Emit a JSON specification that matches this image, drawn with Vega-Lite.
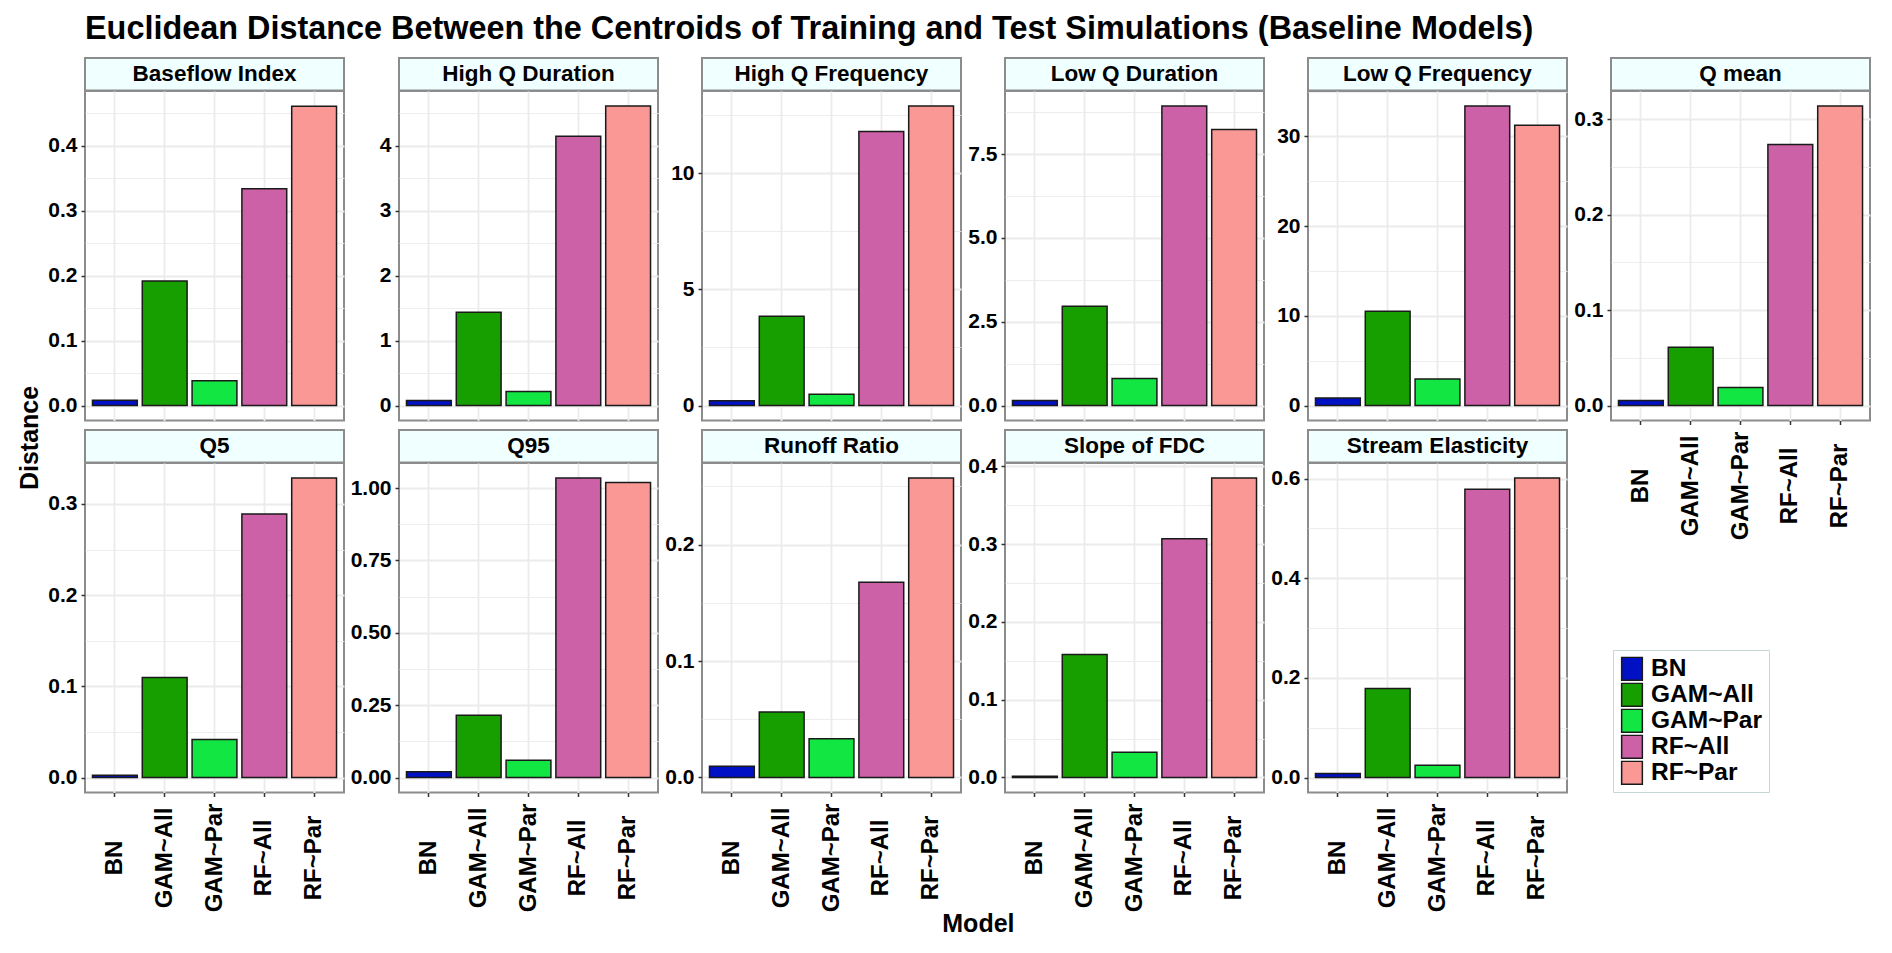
{
  "$schema": "https://vega.github.io/schema/vega-lite/v6.json",
  "padding": {"left": 17, "top": 12, "right": 5, "bottom": 5},
  "title": {
    "text": "Euclidean Distance Between the Centroids of Training and Test Simulations (Baseline Models)",
    "fontSize": 32.4,
    "fontWeight": "bold",
    "color": "#000000",
    "anchor": "start",
    "frame": "group",
    "offset": 12
  },
  "datasets": {
    "dist": [
      {"metric": "Baseflow Index", "model": "BN", "distance": 0.008},
      {"metric": "Baseflow Index", "model": "GAM~All", "distance": 0.192},
      {"metric": "Baseflow Index", "model": "GAM~Par", "distance": 0.038},
      {"metric": "Baseflow Index", "model": "RF~All", "distance": 0.334},
      {"metric": "Baseflow Index", "model": "RF~Par", "distance": 0.461},
      {"metric": "High Q Duration", "model": "BN", "distance": 0.077},
      {"metric": "High Q Duration", "model": "GAM~All", "distance": 1.436},
      {"metric": "High Q Duration", "model": "GAM~Par", "distance": 0.215},
      {"metric": "High Q Duration", "model": "RF~All", "distance": 4.143},
      {"metric": "High Q Duration", "model": "RF~Par", "distance": 4.61},
      {"metric": "High Q Frequency", "model": "BN", "distance": 0.21},
      {"metric": "High Q Frequency", "model": "GAM~All", "distance": 3.84},
      {"metric": "High Q Frequency", "model": "GAM~Par", "distance": 0.49},
      {"metric": "High Q Frequency", "model": "RF~All", "distance": 11.79},
      {"metric": "High Q Frequency", "model": "RF~Par", "distance": 12.89},
      {"metric": "Low Q Duration", "model": "BN", "distance": 0.15},
      {"metric": "Low Q Duration", "model": "GAM~All", "distance": 2.96},
      {"metric": "Low Q Duration", "model": "GAM~Par", "distance": 0.81},
      {"metric": "Low Q Duration", "model": "RF~All", "distance": 8.94},
      {"metric": "Low Q Duration", "model": "RF~Par", "distance": 8.24},
      {"metric": "Low Q Frequency", "model": "BN", "distance": 0.85},
      {"metric": "Low Q Frequency", "model": "GAM~All", "distance": 10.5},
      {"metric": "Low Q Frequency", "model": "GAM~Par", "distance": 2.97},
      {"metric": "Low Q Frequency", "model": "RF~All", "distance": 33.4},
      {"metric": "Low Q Frequency", "model": "RF~Par", "distance": 31.26},
      {"metric": "Q mean", "model": "BN", "distance": 0.0052},
      {"metric": "Q mean", "model": "GAM~All", "distance": 0.061},
      {"metric": "Q mean", "model": "GAM~Par", "distance": 0.019},
      {"metric": "Q mean", "model": "RF~All", "distance": 0.2735},
      {"metric": "Q mean", "model": "RF~Par", "distance": 0.314},
      {"metric": "Q5", "model": "BN", "distance": 0.0026},
      {"metric": "Q5", "model": "GAM~All", "distance": 0.1096},
      {"metric": "Q5", "model": "GAM~Par", "distance": 0.0417},
      {"metric": "Q5", "model": "RF~All", "distance": 0.289},
      {"metric": "Q5", "model": "RF~Par", "distance": 0.3285},
      {"metric": "Q95", "model": "BN", "distance": 0.0196},
      {"metric": "Q95", "model": "GAM~All", "distance": 0.215},
      {"metric": "Q95", "model": "GAM~Par", "distance": 0.0598},
      {"metric": "Q95", "model": "RF~All", "distance": 1.035},
      {"metric": "Q95", "model": "RF~Par", "distance": 1.019},
      {"metric": "Runoff Ratio", "model": "BN", "distance": 0.0097},
      {"metric": "Runoff Ratio", "model": "GAM~All", "distance": 0.0563},
      {"metric": "Runoff Ratio", "model": "GAM~Par", "distance": 0.0332},
      {"metric": "Runoff Ratio", "model": "RF~All", "distance": 0.1676},
      {"metric": "Runoff Ratio", "model": "RF~Par", "distance": 0.2572},
      {"metric": "Slope of FDC", "model": "BN", "distance": 0.0017},
      {"metric": "Slope of FDC", "model": "GAM~All", "distance": 0.158},
      {"metric": "Slope of FDC", "model": "GAM~Par", "distance": 0.0325},
      {"metric": "Slope of FDC", "model": "RF~All", "distance": 0.307},
      {"metric": "Slope of FDC", "model": "RF~Par", "distance": 0.385},
      {"metric": "Stream Elasticity", "model": "BN", "distance": 0.008},
      {"metric": "Stream Elasticity", "model": "GAM~All", "distance": 0.1786},
      {"metric": "Stream Elasticity", "model": "GAM~Par", "distance": 0.0247},
      {"metric": "Stream Elasticity", "model": "RF~All", "distance": 0.5786},
      {"metric": "Stream Elasticity", "model": "RF~Par", "distance": 0.6013}
    ]
  },
  "data": {"name": "dist"},
  "config": {
    "font": "Liberation Sans",
    "background": "#ffffff",
    "view": {"stroke": "#8c8c8c", "strokeWidth": 2, "fill": "#ffffff"},
    "axisY": {
      "domain": false,
      "tickSize": 4,
      "tickColor": "#333333",
      "tickWidth": 1.5,
      "labelFontSize": 21,
      "labelFontWeight": "bold",
      "labelColor": "#000000",
      "labelPadding": 4,
      "gridColor": "#EBEBEB"
    },
    "axisX": {
      "domain": false,
      "tickSize": 4,
      "tickColor": "#333333",
      "tickWidth": 1.5,
      "labelFontSize": 24,
      "labelFontWeight": "bold",
      "labelColor": "#000000",
      "labelAngle": 270,
      "labelAlign": "center",
      "labelBaseline": "middle",
      "labelPadding": 61,
      "labelOverlap": false,
      "bandPosition": 0.5,
      "gridColor": "#EBEBEB",
      "gridWidth": 1.8
    },
    "legend": {
      "labelFontSize": 24.5,
      "labelFontWeight": "bold",
      "labelColor": "#000000",
      "symbolType": "M-0.9,-1H0.9V1H-0.9Z",
      "symbolSize": 529,
      "symbolStrokeColor": "#1a1a1a",
      "symbolStrokeWidth": 1.5,
      "symbolOpacity": 1,
      "clipHeight": 24.5,
      "rowPadding": 0,
      "labelOffset": 6.5,
      "padding": 6.5,
      "strokeColor": "#C5D6D6",
      "fillColor": "#ffffff"
    },
    "bar": {"stroke": "#1a1a1a", "strokeWidth": 1.5}
  },
  "vconcat": [
    {
      "title": {"text": "Model", "orient": "bottom", "anchor": "middle", "fontSize": 25, "fontWeight": "bold", "color": "#000000", "offset": 0, "dx": 34, "dy": -1},
      "spacing": 4,
      "hconcat": [
        {
          "title": {"text": "Distance", "orient": "left", "anchor": "middle", "fontSize": 25, "fontWeight": "bold", "color": "#000000", "offset": 4, "dx": 47},
          "spacing": 7,
          "vconcat": [
            {
              "spacing": 0,
              "bounds": "flush",
              "vconcat": [
                {
                  "width": 259, "height": 32.5,
                  "view": {"fill": "#F0FFFF", "stroke": "#8c8c8c", "strokeWidth": 2},
                  "transform": [{"filter": "datum.metric == 'Baseflow Index' && datum.model == 'BN'"}],
                  "mark": {"type": "text", "fontSize": 22.5, "fontWeight": "bold", "color": "#000000"},
                  "encoding": {
                    "x": {"field": "metric", "type": "nominal", "axis": {"title": null, "labels": false, "ticks": false, "grid": false, "domain": true, "domainColor": "#1a1a1a", "domainWidth": 2}},
                    "text": {"field": "metric"}
                  }
                },
                {
                  "width": 259, "height": 329.5,
                  "transform": [{"filter": "datum.metric == 'Baseflow Index'"}],
                  "mark": "bar",
                  "encoding": {
                    "x": {"field": "model", "type": "nominal", "scale": {"paddingInner": 0.1, "paddingOuter": 0.15}, "axis": {"title": null, "labels": false, "ticks": false, "grid": true}},
                    "y": {"field": "distance", "type": "quantitative", "scale": {"domain": [-0.0231, 0.4846], "nice": false, "zero": false},
                      "axis": {"title": null, "grid": true, "values": [0, 0.05, 0.1, 0.15, 0.2, 0.25, 0.3, 0.35, 0.4, 0.45], "format": ".1f",
                        "labelExpr": "abs(datum.value/0.1-round(datum.value/0.1))>0.01 ? '' : datum.label",
                        "tickOpacity": {"condition": {"test": "abs(datum.value/0.1-round(datum.value/0.1))>0.01", "value": 0}, "value": 1},
                        "gridWidth": {"condition": {"test": "abs(datum.value/0.1-round(datum.value/0.1))>0.01", "value": 0.9}, "value": 1.8}}},
                    "color": {"field": "model", "type": "nominal",
                      "scale": {"domain": ["BN", "GAM~All", "GAM~Par", "RF~All", "RF~Par"], "range": ["#0010C4", "#179F00", "#12E642", "#CC61A7", "#FA9896"]},
                      "legend": {"title": null, "orient": "none", "legendX": 1528, "legendY": 592, "rowPadding": 0}}
                  }
                }
              ]
            },
            {
              "spacing": 0,
              "bounds": "flush",
              "vconcat": [
                {
                  "width": 259, "height": 32.5,
                  "view": {"fill": "#F0FFFF", "stroke": "#8c8c8c", "strokeWidth": 2},
                  "transform": [{"filter": "datum.metric == 'Q5' && datum.model == 'BN'"}],
                  "mark": {"type": "text", "fontSize": 22.5, "fontWeight": "bold", "color": "#000000"},
                  "encoding": {
                    "x": {"field": "metric", "type": "nominal", "axis": {"title": null, "labels": false, "ticks": false, "grid": false, "domain": true, "domainColor": "#1a1a1a", "domainWidth": 2}},
                    "text": {"field": "metric"}
                  }
                },
                {
                  "width": 259, "height": 329.5,
                  "transform": [{"filter": "datum.metric == 'Q5'"}],
                  "mark": "bar",
                  "encoding": {
                    "x": {"field": "model", "type": "nominal", "scale": {"paddingInner": 0.1, "paddingOuter": 0.15}, "axis": {"title": null, "grid": true}},
                    "y": {"field": "distance", "type": "quantitative", "scale": {"domain": [-0.0164, 0.3449], "nice": false, "zero": false},
                      "axis": {"title": null, "grid": true, "values": [0, 0.05, 0.1, 0.15, 0.2, 0.25, 0.3], "format": ".1f",
                        "labelExpr": "abs(datum.value/0.1-round(datum.value/0.1))>0.01 ? '' : datum.label",
                        "tickOpacity": {"condition": {"test": "abs(datum.value/0.1-round(datum.value/0.1))>0.01", "value": 0}, "value": 1},
                        "gridWidth": {"condition": {"test": "abs(datum.value/0.1-round(datum.value/0.1))>0.01", "value": 0.9}, "value": 1.8}}},
                    "color": {"field": "model", "type": "nominal"}
                  }
                }
              ]
            }
          ]
        },
        {
          "spacing": 7,
          "vconcat": [
            {
              "spacing": 0,
              "bounds": "flush",
              "vconcat": [
                {
                  "width": 259, "height": 32.5,
                  "view": {"fill": "#F0FFFF", "stroke": "#8c8c8c", "strokeWidth": 2},
                  "transform": [{"filter": "datum.metric == 'High Q Duration' && datum.model == 'BN'"}],
                  "mark": {"type": "text", "fontSize": 22.5, "fontWeight": "bold", "color": "#000000"},
                  "encoding": {
                    "x": {"field": "metric", "type": "nominal", "axis": {"title": null, "labels": false, "ticks": false, "grid": false, "domain": true, "domainColor": "#1a1a1a", "domainWidth": 2}},
                    "text": {"field": "metric"}
                  }
                },
                {
                  "width": 259, "height": 329.5,
                  "transform": [{"filter": "datum.metric == 'High Q Duration'"}],
                  "mark": "bar",
                  "encoding": {
                    "x": {"field": "model", "type": "nominal", "scale": {"paddingInner": 0.1, "paddingOuter": 0.15}, "axis": {"title": null, "labels": false, "ticks": false, "grid": true}},
                    "y": {"field": "distance", "type": "quantitative", "scale": {"domain": [-0.2305, 4.8405], "nice": false, "zero": false},
                      "axis": {"title": null, "grid": true, "values": [0, 0.5, 1, 1.5, 2, 2.5, 3, 3.5, 4, 4.5], "format": ".0f",
                        "labelExpr": "abs(datum.value-round(datum.value))>0.01 ? '' : datum.label",
                        "tickOpacity": {"condition": {"test": "abs(datum.value-round(datum.value))>0.01", "value": 0}, "value": 1},
                        "gridWidth": {"condition": {"test": "abs(datum.value-round(datum.value))>0.01", "value": 0.9}, "value": 1.8}}},
                    "color": {"field": "model", "type": "nominal"}
                  }
                }
              ]
            },
            {
              "spacing": 0,
              "bounds": "flush",
              "vconcat": [
                {
                  "width": 259, "height": 32.5,
                  "view": {"fill": "#F0FFFF", "stroke": "#8c8c8c", "strokeWidth": 2},
                  "transform": [{"filter": "datum.metric == 'Q95' && datum.model == 'BN'"}],
                  "mark": {"type": "text", "fontSize": 22.5, "fontWeight": "bold", "color": "#000000"},
                  "encoding": {
                    "x": {"field": "metric", "type": "nominal", "axis": {"title": null, "labels": false, "ticks": false, "grid": false, "domain": true, "domainColor": "#1a1a1a", "domainWidth": 2}},
                    "text": {"field": "metric"}
                  }
                },
                {
                  "width": 259, "height": 329.5,
                  "transform": [{"filter": "datum.metric == 'Q95'"}],
                  "mark": "bar",
                  "encoding": {
                    "x": {"field": "model", "type": "nominal", "scale": {"paddingInner": 0.1, "paddingOuter": 0.15}, "axis": {"title": null, "grid": true}},
                    "y": {"field": "distance", "type": "quantitative", "scale": {"domain": [-0.0518, 1.0868], "nice": false, "zero": false},
                      "axis": {"title": null, "grid": true, "values": [0, 0.125, 0.25, 0.375, 0.5, 0.625, 0.75, 0.875, 1], "format": ".2f",
                        "labelExpr": "abs(datum.value/0.25-round(datum.value/0.25))>0.01 ? '' : datum.label",
                        "tickOpacity": {"condition": {"test": "abs(datum.value/0.25-round(datum.value/0.25))>0.01", "value": 0}, "value": 1},
                        "gridWidth": {"condition": {"test": "abs(datum.value/0.25-round(datum.value/0.25))>0.01", "value": 0.9}, "value": 1.8}}},
                    "color": {"field": "model", "type": "nominal"}
                  }
                }
              ]
            }
          ]
        },
        {
          "spacing": 7,
          "vconcat": [
            {
              "spacing": 0,
              "bounds": "flush",
              "vconcat": [
                {
                  "width": 259, "height": 32.5,
                  "view": {"fill": "#F0FFFF", "stroke": "#8c8c8c", "strokeWidth": 2},
                  "transform": [{"filter": "datum.metric == 'High Q Frequency' && datum.model == 'BN'"}],
                  "mark": {"type": "text", "fontSize": 22.5, "fontWeight": "bold", "color": "#000000"},
                  "encoding": {
                    "x": {"field": "metric", "type": "nominal", "axis": {"title": null, "labels": false, "ticks": false, "grid": false, "domain": true, "domainColor": "#1a1a1a", "domainWidth": 2}},
                    "text": {"field": "metric"}
                  }
                },
                {
                  "width": 259, "height": 329.5,
                  "transform": [{"filter": "datum.metric == 'High Q Frequency'"}],
                  "mark": "bar",
                  "encoding": {
                    "x": {"field": "model", "type": "nominal", "scale": {"paddingInner": 0.1, "paddingOuter": 0.15}, "axis": {"title": null, "labels": false, "ticks": false, "grid": true}},
                    "y": {"field": "distance", "type": "quantitative", "scale": {"domain": [-0.6445, 13.5345], "nice": false, "zero": false},
                      "axis": {"title": null, "grid": true, "values": [0, 2.5, 5, 7.5, 10, 12.5], "format": ".0f",
                        "labelExpr": "abs(datum.value/5-round(datum.value/5))>0.01 ? '' : datum.label",
                        "tickOpacity": {"condition": {"test": "abs(datum.value/5-round(datum.value/5))>0.01", "value": 0}, "value": 1},
                        "gridWidth": {"condition": {"test": "abs(datum.value/5-round(datum.value/5))>0.01", "value": 0.9}, "value": 1.8}}},
                    "color": {"field": "model", "type": "nominal"}
                  }
                }
              ]
            },
            {
              "spacing": 0,
              "bounds": "flush",
              "vconcat": [
                {
                  "width": 259, "height": 32.5,
                  "view": {"fill": "#F0FFFF", "stroke": "#8c8c8c", "strokeWidth": 2},
                  "transform": [{"filter": "datum.metric == 'Runoff Ratio' && datum.model == 'BN'"}],
                  "mark": {"type": "text", "fontSize": 22.5, "fontWeight": "bold", "color": "#000000"},
                  "encoding": {
                    "x": {"field": "metric", "type": "nominal", "axis": {"title": null, "labels": false, "ticks": false, "grid": false, "domain": true, "domainColor": "#1a1a1a", "domainWidth": 2}},
                    "text": {"field": "metric"}
                  }
                },
                {
                  "width": 259, "height": 329.5,
                  "transform": [{"filter": "datum.metric == 'Runoff Ratio'"}],
                  "mark": "bar",
                  "encoding": {
                    "x": {"field": "model", "type": "nominal", "scale": {"paddingInner": 0.1, "paddingOuter": 0.15}, "axis": {"title": null, "grid": true}},
                    "y": {"field": "distance", "type": "quantitative", "scale": {"domain": [-0.0129, 0.2701], "nice": false, "zero": false},
                      "axis": {"title": null, "grid": true, "values": [0, 0.05, 0.1, 0.15, 0.2, 0.25], "format": ".1f",
                        "labelExpr": "abs(datum.value/0.1-round(datum.value/0.1))>0.01 ? '' : datum.label",
                        "tickOpacity": {"condition": {"test": "abs(datum.value/0.1-round(datum.value/0.1))>0.01", "value": 0}, "value": 1},
                        "gridWidth": {"condition": {"test": "abs(datum.value/0.1-round(datum.value/0.1))>0.01", "value": 0.9}, "value": 1.8}}},
                    "color": {"field": "model", "type": "nominal"}
                  }
                }
              ]
            }
          ]
        },
        {
          "spacing": 7,
          "vconcat": [
            {
              "spacing": 0,
              "bounds": "flush",
              "vconcat": [
                {
                  "width": 259, "height": 32.5,
                  "view": {"fill": "#F0FFFF", "stroke": "#8c8c8c", "strokeWidth": 2},
                  "transform": [{"filter": "datum.metric == 'Low Q Duration' && datum.model == 'BN'"}],
                  "mark": {"type": "text", "fontSize": 22.5, "fontWeight": "bold", "color": "#000000"},
                  "encoding": {
                    "x": {"field": "metric", "type": "nominal", "axis": {"title": null, "labels": false, "ticks": false, "grid": false, "domain": true, "domainColor": "#1a1a1a", "domainWidth": 2}},
                    "text": {"field": "metric"}
                  }
                },
                {
                  "width": 259, "height": 329.5,
                  "transform": [{"filter": "datum.metric == 'Low Q Duration'"}],
                  "mark": "bar",
                  "encoding": {
                    "x": {"field": "model", "type": "nominal", "scale": {"paddingInner": 0.1, "paddingOuter": 0.15}, "axis": {"title": null, "labels": false, "ticks": false, "grid": true}},
                    "y": {"field": "distance", "type": "quantitative", "scale": {"domain": [-0.447, 9.387], "nice": false, "zero": false},
                      "axis": {"title": null, "grid": true, "values": [0, 1.25, 2.5, 3.75, 5, 6.25, 7.5, 8.75], "format": ".1f",
                        "labelExpr": "abs(datum.value/2.5-round(datum.value/2.5))>0.01 ? '' : datum.label",
                        "tickOpacity": {"condition": {"test": "abs(datum.value/2.5-round(datum.value/2.5))>0.01", "value": 0}, "value": 1},
                        "gridWidth": {"condition": {"test": "abs(datum.value/2.5-round(datum.value/2.5))>0.01", "value": 0.9}, "value": 1.8}}},
                    "color": {"field": "model", "type": "nominal"}
                  }
                }
              ]
            },
            {
              "spacing": 0,
              "bounds": "flush",
              "vconcat": [
                {
                  "width": 259, "height": 32.5,
                  "view": {"fill": "#F0FFFF", "stroke": "#8c8c8c", "strokeWidth": 2},
                  "transform": [{"filter": "datum.metric == 'Slope of FDC' && datum.model == 'BN'"}],
                  "mark": {"type": "text", "fontSize": 22.5, "fontWeight": "bold", "color": "#000000"},
                  "encoding": {
                    "x": {"field": "metric", "type": "nominal", "axis": {"title": null, "labels": false, "ticks": false, "grid": false, "domain": true, "domainColor": "#1a1a1a", "domainWidth": 2}},
                    "text": {"field": "metric"}
                  }
                },
                {
                  "width": 259, "height": 329.5,
                  "transform": [{"filter": "datum.metric == 'Slope of FDC'"}],
                  "mark": "bar",
                  "encoding": {
                    "x": {"field": "model", "type": "nominal", "scale": {"paddingInner": 0.1, "paddingOuter": 0.15}, "axis": {"title": null, "grid": true}},
                    "y": {"field": "distance", "type": "quantitative", "scale": {"domain": [-0.0193, 0.4043], "nice": false, "zero": false},
                      "axis": {"title": null, "grid": true, "values": [0, 0.05, 0.1, 0.15, 0.2, 0.25, 0.3, 0.35, 0.4], "format": ".1f",
                        "labelExpr": "abs(datum.value/0.1-round(datum.value/0.1))>0.01 ? '' : datum.label",
                        "tickOpacity": {"condition": {"test": "abs(datum.value/0.1-round(datum.value/0.1))>0.01", "value": 0}, "value": 1},
                        "gridWidth": {"condition": {"test": "abs(datum.value/0.1-round(datum.value/0.1))>0.01", "value": 0.9}, "value": 1.8}}},
                    "color": {"field": "model", "type": "nominal"}
                  }
                }
              ]
            }
          ]
        },
        {
          "spacing": 7,
          "vconcat": [
            {
              "spacing": 0,
              "bounds": "flush",
              "vconcat": [
                {
                  "width": 259, "height": 32.5,
                  "view": {"fill": "#F0FFFF", "stroke": "#8c8c8c", "strokeWidth": 2},
                  "transform": [{"filter": "datum.metric == 'Low Q Frequency' && datum.model == 'BN'"}],
                  "mark": {"type": "text", "fontSize": 22.5, "fontWeight": "bold", "color": "#000000"},
                  "encoding": {
                    "x": {"field": "metric", "type": "nominal", "axis": {"title": null, "labels": false, "ticks": false, "grid": false, "domain": true, "domainColor": "#1a1a1a", "domainWidth": 2}},
                    "text": {"field": "metric"}
                  }
                },
                {
                  "width": 259, "height": 329.5,
                  "transform": [{"filter": "datum.metric == 'Low Q Frequency'"}],
                  "mark": "bar",
                  "encoding": {
                    "x": {"field": "model", "type": "nominal", "scale": {"paddingInner": 0.1, "paddingOuter": 0.15}, "axis": {"title": null, "labels": false, "ticks": false, "grid": true}},
                    "y": {"field": "distance", "type": "quantitative", "scale": {"domain": [-1.67, 35.07], "nice": false, "zero": false},
                      "axis": {"title": null, "grid": true, "values": [0, 5, 10, 15, 20, 25, 30, 35], "format": ".0f",
                        "labelExpr": "abs(datum.value/10-round(datum.value/10))>0.01 ? '' : datum.label",
                        "tickOpacity": {"condition": {"test": "abs(datum.value/10-round(datum.value/10))>0.01", "value": 0}, "value": 1},
                        "gridWidth": {"condition": {"test": "abs(datum.value/10-round(datum.value/10))>0.01", "value": 0.9}, "value": 1.8}}},
                    "color": {"field": "model", "type": "nominal"}
                  }
                }
              ]
            },
            {
              "spacing": 0,
              "bounds": "flush",
              "vconcat": [
                {
                  "width": 259, "height": 32.5,
                  "view": {"fill": "#F0FFFF", "stroke": "#8c8c8c", "strokeWidth": 2},
                  "transform": [{"filter": "datum.metric == 'Stream Elasticity' && datum.model == 'BN'"}],
                  "mark": {"type": "text", "fontSize": 22.5, "fontWeight": "bold", "color": "#000000"},
                  "encoding": {
                    "x": {"field": "metric", "type": "nominal", "axis": {"title": null, "labels": false, "ticks": false, "grid": false, "domain": true, "domainColor": "#1a1a1a", "domainWidth": 2}},
                    "text": {"field": "metric"}
                  }
                },
                {
                  "width": 259, "height": 329.5,
                  "transform": [{"filter": "datum.metric == 'Stream Elasticity'"}],
                  "mark": "bar",
                  "encoding": {
                    "x": {"field": "model", "type": "nominal", "scale": {"paddingInner": 0.1, "paddingOuter": 0.15}, "axis": {"title": null, "grid": true}},
                    "y": {"field": "distance", "type": "quantitative", "scale": {"domain": [-0.0301, 0.6314], "nice": false, "zero": false},
                      "axis": {"title": null, "grid": true, "values": [0, 0.1, 0.2, 0.3, 0.4, 0.5, 0.6], "format": ".1f",
                        "labelExpr": "abs(datum.value/0.2-round(datum.value/0.2))>0.01 ? '' : datum.label",
                        "tickOpacity": {"condition": {"test": "abs(datum.value/0.2-round(datum.value/0.2))>0.01", "value": 0}, "value": 1},
                        "gridWidth": {"condition": {"test": "abs(datum.value/0.2-round(datum.value/0.2))>0.01", "value": 0.9}, "value": 1.8}}},
                    "color": {"field": "model", "type": "nominal"}
                  }
                }
              ]
            }
          ]
        },
        {
          "spacing": 0,
          "bounds": "flush",
          "vconcat": [
            {
              "width": 259, "height": 32.5,
              "view": {"fill": "#F0FFFF", "stroke": "#8c8c8c", "strokeWidth": 2},
              "transform": [{"filter": "datum.metric == 'Q mean' && datum.model == 'BN'"}],
              "mark": {"type": "text", "fontSize": 22.5, "fontWeight": "bold", "color": "#000000"},
              "encoding": {
                "x": {"field": "metric", "type": "nominal", "axis": {"title": null, "labels": false, "ticks": false, "grid": false, "domain": true, "domainColor": "#1a1a1a", "domainWidth": 2}},
                "text": {"field": "metric"}
              }
            },
            {
              "width": 259, "height": 329.5,
              "transform": [{"filter": "datum.metric == 'Q mean'"}],
              "mark": "bar",
              "encoding": {
                "x": {"field": "model", "type": "nominal", "scale": {"paddingInner": 0.1, "paddingOuter": 0.15}, "axis": {"title": null, "grid": true}},
                "y": {"field": "distance", "type": "quantitative", "scale": {"domain": [-0.0157, 0.3297], "nice": false, "zero": false},
                  "axis": {"title": null, "grid": true, "values": [0, 0.05, 0.1, 0.15, 0.2, 0.25, 0.3], "format": ".1f",
                    "labelExpr": "abs(datum.value/0.1-round(datum.value/0.1))>0.01 ? '' : datum.label",
                    "tickOpacity": {"condition": {"test": "abs(datum.value/0.1-round(datum.value/0.1))>0.01", "value": 0}, "value": 1},
                    "gridWidth": {"condition": {"test": "abs(datum.value/0.1-round(datum.value/0.1))>0.01", "value": 0.9}, "value": 1.8}}},
                "color": {"field": "model", "type": "nominal"}
              }
            }
          ]
        }
      ]
    }
  ]
}
